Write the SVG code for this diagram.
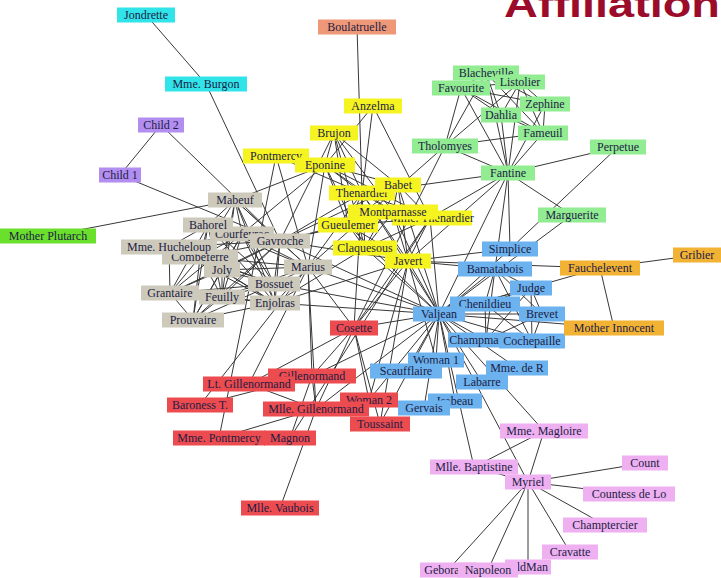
<svg xmlns="http://www.w3.org/2000/svg" width="721" height="578" viewBox="0 0 721 578">
<style>
.node rect{stroke:none}
.node text{font-family:"Liberation Serif","Times New Roman",serif;font-size:12px;fill:#1c1c44;text-anchor:middle}
.cyan rect{fill:#30e4ea}
.salmon rect{fill:#ef9878}
.purple rect{fill:#b28ef0}
.lime rect{fill:#6adf2c}
.yellow rect{fill:#f6f420}
.green rect{fill:#92ec92}
.gray rect{fill:#cdcabb}
.red rect{fill:#ec4c4f}
.blue rect{fill:#6cb2ee}
.orange rect{fill:#f2b234}
.pink rect{fill:#eeb0f0}
#edges line{stroke:#383838;stroke-width:1}
.title{font-family:"Liberation Sans",Arial,sans-serif;font-weight:bold;font-size:36px;fill:#9b0b2a}
</style>
<rect width="721" height="578" fill="#ffffff"/>
<text class="title" x="504" y="17" textLength="216" lengthAdjust="spacingAndGlyphs">Affiliation</text>
<g id="edges">
<line x1="488" y1="570" x2="528" y2="482"/><line x1="474" y1="467" x2="528" y2="482"/><line x1="544" y1="431" x2="528" y2="482"/><line x1="544" y1="431" x2="474" y2="467"/><line x1="629" y1="494" x2="528" y2="482"/><line x1="448" y1="570" x2="528" y2="482"/><line x1="605" y1="525" x2="528" y2="482"/><line x1="570" y1="552" x2="528" y2="482"/><line x1="645" y1="463" x2="528" y2="482"/><line x1="528" y1="567" x2="528" y2="482"/>
<line x1="439" y1="314" x2="482" y2="382"/><line x1="439" y1="314" x2="544" y2="431"/><line x1="439" y1="314" x2="474" y2="467"/><line x1="439" y1="314" x2="528" y2="482"/><line x1="572" y1="215" x2="439" y2="314"/><line x1="517" y1="368" x2="439" y2="314"/><line x1="455" y1="401" x2="439" y2="314"/><line x1="424" y1="408" x2="439" y2="314"/>
<line x1="520" y1="82" x2="445" y2="146"/><line x1="543" y1="133" x2="445" y2="146"/><line x1="543" y1="133" x2="520" y2="82"/><line x1="486" y1="73" x2="445" y2="146"/><line x1="486" y1="73" x2="520" y2="82"/><line x1="486" y1="73" x2="543" y2="133"/><line x1="461" y1="88" x2="445" y2="146"/><line x1="461" y1="88" x2="520" y2="82"/><line x1="461" y1="88" x2="543" y2="133"/><line x1="461" y1="88" x2="486" y2="73"/>
<line x1="501" y1="115" x2="520" y2="82"/><line x1="501" y1="115" x2="543" y2="133"/><line x1="501" y1="115" x2="486" y2="73"/><line x1="501" y1="115" x2="461" y2="88"/><line x1="545" y1="104" x2="520" y2="82"/><line x1="545" y1="104" x2="543" y2="133"/><line x1="545" y1="104" x2="486" y2="73"/><line x1="545" y1="104" x2="461" y2="88"/><line x1="545" y1="104" x2="501" y2="115"/>
<line x1="508" y1="173" x2="445" y2="146"/><line x1="508" y1="173" x2="520" y2="82"/><line x1="508" y1="173" x2="543" y2="133"/><line x1="508" y1="173" x2="486" y2="73"/><line x1="508" y1="173" x2="461" y2="88"/><line x1="508" y1="173" x2="501" y2="115"/><line x1="508" y1="173" x2="545" y2="104"/><line x1="508" y1="173" x2="572" y2="215"/><line x1="508" y1="173" x2="439" y2="314"/>
<line x1="430" y1="218" x2="508" y2="173"/><line x1="430" y1="218" x2="439" y2="314"/><line x1="362" y1="193" x2="430" y2="218"/><line x1="362" y1="193" x2="508" y2="173"/><line x1="362" y1="193" x2="439" y2="314"/>
<line x1="354" y1="328" x2="430" y2="218"/><line x1="354" y1="328" x2="439" y2="314"/><line x1="354" y1="328" x2="445" y2="146"/><line x1="354" y1="328" x2="362" y2="193"/>
<line x1="408" y1="261" x2="439" y2="314"/><line x1="408" y1="261" x2="508" y2="173"/><line x1="408" y1="261" x2="362" y2="193"/><line x1="408" y1="261" x2="430" y2="218"/><line x1="408" y1="261" x2="354" y2="328"/>
<line x1="600" y1="268" x2="439" y2="314"/><line x1="600" y1="268" x2="408" y2="261"/><line x1="495" y1="269" x2="508" y2="173"/><line x1="495" y1="269" x2="408" y2="261"/><line x1="495" y1="269" x2="439" y2="314"/>
<line x1="618" y1="147" x2="508" y2="173"/><line x1="510" y1="249" x2="618" y2="147"/><line x1="510" y1="249" x2="439" y2="314"/><line x1="510" y1="249" x2="508" y2="173"/><line x1="510" y1="249" x2="408" y2="261"/>
<line x1="406" y1="371" x2="439" y2="314"/><line x1="436" y1="360" x2="439" y2="314"/><line x1="436" y1="360" x2="408" y2="261"/>
<line x1="531" y1="288" x2="439" y2="314"/><line x1="531" y1="288" x2="495" y2="269"/><line x1="486" y1="340" x2="439" y2="314"/><line x1="486" y1="340" x2="531" y2="288"/><line x1="486" y1="340" x2="495" y2="269"/>
<line x1="542" y1="314" x2="531" y2="288"/><line x1="542" y1="314" x2="486" y2="340"/><line x1="542" y1="314" x2="439" y2="314"/><line x1="542" y1="314" x2="495" y2="269"/>
<line x1="485" y1="304" x2="531" y2="288"/><line x1="485" y1="304" x2="486" y2="340"/><line x1="485" y1="304" x2="542" y2="314"/><line x1="485" y1="304" x2="439" y2="314"/><line x1="485" y1="304" x2="495" y2="269"/>
<line x1="532" y1="341" x2="531" y2="288"/><line x1="532" y1="341" x2="486" y2="340"/><line x1="532" y1="341" x2="542" y2="314"/><line x1="532" y1="341" x2="485" y2="304"/><line x1="532" y1="341" x2="439" y2="314"/><line x1="532" y1="341" x2="495" y2="269"/>
<line x1="276" y1="156" x2="362" y2="193"/><line x1="357" y1="27" x2="362" y2="193"/><line x1="325" y1="165" x2="430" y2="218"/><line x1="325" y1="165" x2="362" y2="193"/>
<line x1="373" y1="106" x2="325" y2="165"/><line x1="373" y1="106" x2="362" y2="193"/><line x1="373" y1="106" x2="430" y2="218"/>
<line x1="369" y1="400" x2="439" y2="314"/><line x1="369" y1="400" x2="354" y2="328"/><line x1="369" y1="400" x2="408" y2="261"/>
<line x1="614" y1="328" x2="600" y2="268"/><line x1="614" y1="328" x2="439" y2="314"/><line x1="697" y1="255" x2="600" y2="268"/>
<line x1="206" y1="84" x2="146" y2="15"/><line x1="280" y1="241" x2="206" y2="84"/><line x1="280" y1="241" x2="362" y2="193"/><line x1="280" y1="241" x2="408" y2="261"/><line x1="280" y1="241" x2="439" y2="314"/>
<line x1="312" y1="376" x2="354" y2="328"/><line x1="312" y1="376" x2="439" y2="314"/><line x1="290" y1="438" x2="312" y2="376"/><line x1="290" y1="438" x2="430" y2="218"/>
<line x1="316" y1="409" x2="312" y2="376"/><line x1="316" y1="409" x2="354" y2="328"/><line x1="316" y1="409" x2="439" y2="314"/><line x1="219" y1="438" x2="316" y2="409"/><line x1="219" y1="438" x2="276" y2="156"/><line x1="280" y1="508" x2="316" y2="409"/>
<line x1="249" y1="384" x2="316" y2="409"/><line x1="249" y1="384" x2="312" y2="376"/><line x1="249" y1="384" x2="354" y2="328"/>
<line x1="308" y1="267" x2="316" y2="409"/><line x1="308" y1="267" x2="312" y2="376"/><line x1="308" y1="267" x2="276" y2="156"/><line x1="308" y1="267" x2="249" y2="384"/><line x1="308" y1="267" x2="354" y2="328"/><line x1="308" y1="267" x2="439" y2="314"/><line x1="308" y1="267" x2="445" y2="146"/><line x1="308" y1="267" x2="362" y2="193"/><line x1="308" y1="267" x2="325" y2="165"/><line x1="308" y1="267" x2="280" y2="241"/>
<line x1="200" y1="405" x2="312" y2="376"/><line x1="200" y1="405" x2="308" y2="267"/>
<line x1="235" y1="200" x2="308" y2="267"/><line x1="235" y1="200" x2="325" y2="165"/><line x1="235" y1="200" x2="280" y2="241"/>
<line x1="275" y1="303" x2="308" y2="267"/><line x1="275" y1="303" x2="280" y2="241"/><line x1="275" y1="303" x2="408" y2="261"/><line x1="275" y1="303" x2="235" y2="200"/><line x1="275" y1="303" x2="439" y2="314"/>
<line x1="200" y1="257" x2="275" y2="303"/><line x1="200" y1="257" x2="308" y2="267"/><line x1="200" y1="257" x2="280" y2="241"/><line x1="200" y1="257" x2="235" y2="200"/>
<line x1="193" y1="320" x2="280" y2="241"/><line x1="193" y1="320" x2="275" y2="303"/><line x1="193" y1="320" x2="200" y2="257"/>
<line x1="222" y1="297" x2="280" y2="241"/><line x1="222" y1="297" x2="275" y2="303"/><line x1="222" y1="297" x2="193" y2="320"/><line x1="222" y1="297" x2="200" y2="257"/><line x1="222" y1="297" x2="235" y2="200"/><line x1="222" y1="297" x2="308" y2="267"/>
<line x1="242" y1="234" x2="308" y2="267"/><line x1="242" y1="234" x2="275" y2="303"/><line x1="242" y1="234" x2="200" y2="257"/><line x1="242" y1="234" x2="280" y2="241"/><line x1="242" y1="234" x2="235" y2="200"/><line x1="242" y1="234" x2="325" y2="165"/><line x1="242" y1="234" x2="222" y2="297"/><line x1="242" y1="234" x2="193" y2="320"/>
<line x1="208" y1="225" x2="200" y2="257"/><line x1="208" y1="225" x2="280" y2="241"/><line x1="208" y1="225" x2="242" y2="234"/><line x1="208" y1="225" x2="235" y2="200"/><line x1="208" y1="225" x2="275" y2="303"/><line x1="208" y1="225" x2="222" y2="297"/><line x1="208" y1="225" x2="193" y2="320"/><line x1="208" y1="225" x2="308" y2="267"/>
<line x1="274" y1="284" x2="308" y2="267"/><line x1="274" y1="284" x2="242" y2="234"/><line x1="274" y1="284" x2="280" y2="241"/><line x1="274" y1="284" x2="208" y2="225"/><line x1="274" y1="284" x2="275" y2="303"/><line x1="274" y1="284" x2="222" y2="297"/><line x1="274" y1="284" x2="193" y2="320"/><line x1="274" y1="284" x2="200" y2="257"/><line x1="274" y1="284" x2="235" y2="200"/><line x1="274" y1="284" x2="439" y2="314"/>
<line x1="222" y1="270" x2="208" y2="225"/><line x1="222" y1="270" x2="274" y2="284"/><line x1="222" y1="270" x2="280" y2="241"/><line x1="222" y1="270" x2="242" y2="234"/><line x1="222" y1="270" x2="275" y2="303"/><line x1="222" y1="270" x2="222" y2="297"/><line x1="222" y1="270" x2="193" y2="320"/><line x1="222" y1="270" x2="200" y2="257"/><line x1="222" y1="270" x2="235" y2="200"/><line x1="222" y1="270" x2="308" y2="267"/>
<line x1="170" y1="293" x2="274" y2="284"/><line x1="170" y1="293" x2="275" y2="303"/><line x1="170" y1="293" x2="200" y2="257"/><line x1="170" y1="293" x2="242" y2="234"/><line x1="170" y1="293" x2="222" y2="270"/><line x1="170" y1="293" x2="280" y2="241"/><line x1="170" y1="293" x2="208" y2="225"/><line x1="170" y1="293" x2="222" y2="297"/><line x1="170" y1="293" x2="193" y2="320"/>
<line x1="48" y1="236" x2="235" y2="200"/>
<line x1="348" y1="225" x2="362" y2="193"/><line x1="348" y1="225" x2="439" y2="314"/><line x1="348" y1="225" x2="430" y2="218"/><line x1="348" y1="225" x2="408" y2="261"/><line x1="348" y1="225" x2="280" y2="241"/><line x1="348" y1="225" x2="325" y2="165"/>
<line x1="398" y1="185" x2="362" y2="193"/><line x1="398" y1="185" x2="348" y2="225"/><line x1="398" y1="185" x2="439" y2="314"/><line x1="398" y1="185" x2="430" y2="218"/><line x1="398" y1="185" x2="408" y2="261"/><line x1="398" y1="185" x2="280" y2="241"/><line x1="398" y1="185" x2="325" y2="165"/>
<line x1="365" y1="248" x2="362" y2="193"/><line x1="365" y1="248" x2="398" y2="185"/><line x1="365" y1="248" x2="348" y2="225"/><line x1="365" y1="248" x2="439" y2="314"/><line x1="365" y1="248" x2="430" y2="218"/><line x1="365" y1="248" x2="408" y2="261"/><line x1="365" y1="248" x2="325" y2="165"/><line x1="365" y1="248" x2="275" y2="303"/>
<line x1="393" y1="212" x2="408" y2="261"/><line x1="393" y1="212" x2="398" y2="185"/><line x1="393" y1="212" x2="348" y2="225"/><line x1="393" y1="212" x2="365" y2="248"/><line x1="393" y1="212" x2="439" y2="314"/><line x1="393" y1="212" x2="280" y2="241"/><line x1="393" y1="212" x2="325" y2="165"/><line x1="393" y1="212" x2="362" y2="193"/>
<line x1="380" y1="424" x2="354" y2="328"/><line x1="380" y1="424" x2="408" y2="261"/><line x1="380" y1="424" x2="439" y2="314"/>
<line x1="120" y1="175" x2="280" y2="241"/><line x1="161" y1="125" x2="280" y2="241"/><line x1="161" y1="125" x2="120" y2="175"/>
<line x1="334" y1="133" x2="398" y2="185"/><line x1="334" y1="133" x2="348" y2="225"/><line x1="334" y1="133" x2="362" y2="193"/><line x1="334" y1="133" x2="280" y2="241"/><line x1="334" y1="133" x2="325" y2="165"/><line x1="334" y1="133" x2="365" y2="248"/><line x1="334" y1="133" x2="393" y2="212"/>
<line x1="169" y1="247" x2="274" y2="284"/><line x1="169" y1="247" x2="222" y2="270"/><line x1="169" y1="247" x2="170" y2="293"/><line x1="169" y1="247" x2="208" y2="225"/><line x1="169" y1="247" x2="242" y2="234"/><line x1="169" y1="247" x2="280" y2="241"/><line x1="169" y1="247" x2="275" y2="303"/>
</g>
<g id="nodes">
<g id="n-jondrette" class="node cyan"><rect x="117" y="7.5" width="58" height="15"/><text x="146" y="19">Jondrette</text></g>
<g id="n-mme-burgon" class="node cyan"><rect x="165" y="76.5" width="82" height="15"/><text x="206" y="88">Mme. Burgon</text></g>
<g id="n-boulatruelle" class="node salmon"><rect x="318" y="19.5" width="78" height="15"/><text x="357" y="31">Boulatruelle</text></g>
<g id="n-child2" class="node purple"><rect x="138" y="117.5" width="46" height="15"/><text x="161" y="129">Child 2</text></g>
<g id="n-child1" class="node purple"><rect x="99" y="167.5" width="42" height="15"/><text x="120" y="179">Child 1</text></g>
<g id="n-mother-plutarch" class="node lime"><rect x="0" y="228.5" width="96" height="15"/><text x="48" y="240">Mother Plutarch</text></g>
<g id="n-anzelma" class="node yellow"><rect x="344" y="98.5" width="58" height="15"/><text x="373" y="110">Anzelma</text></g>
<g id="n-brujon" class="node yellow"><rect x="310" y="125.5" width="48" height="15"/><text x="334" y="137">Brujon</text></g>
<g id="n-pontmercy" class="node yellow"><rect x="243" y="148.5" width="66" height="15"/><text x="276" y="160">Pontmercy</text></g>
<g id="n-eponine" class="node yellow"><rect x="295" y="157.5" width="60" height="15"/><text x="325" y="169">Eponine</text></g>
<g id="n-thenardier" class="node yellow"><rect x="329" y="185.5" width="66" height="15"/><text x="362" y="197">Thenardier</text></g>
<g id="n-babet" class="node yellow"><rect x="375" y="177.5" width="46" height="15"/><text x="398" y="189">Babet</text></g>
<g id="n-mme-thenardier" class="node yellow"><rect x="392" y="210.5" width="80" height="15"/><text x="432" y="222">Mme. Thenardier</text></g>
<g id="n-montparnasse" class="node yellow"><rect x="348" y="204.5" width="90" height="15"/><text x="393" y="216">Montparnasse</text></g>
<g id="n-gueulemer" class="node yellow"><rect x="318" y="217.5" width="60" height="15"/><text x="348" y="229">Gueulemer</text></g>
<g id="n-claquesous" class="node yellow"><rect x="333" y="240.5" width="64" height="15"/><text x="365" y="252">Claquesous</text></g>
<g id="n-javert" class="node yellow"><rect x="385" y="253.5" width="46" height="15"/><text x="408" y="265">Javert</text></g>
<g id="n-blacheville" class="node green"><rect x="453" y="65.5" width="66" height="15"/><text x="486" y="77">Blacheville</text></g>
<g id="n-favourite" class="node green"><rect x="432" y="80.5" width="58" height="15"/><text x="461" y="92">Favourite</text></g>
<g id="n-listolier" class="node green"><rect x="495" y="74.5" width="50" height="15"/><text x="520" y="86">Listolier</text></g>
<g id="n-zephine" class="node green"><rect x="520" y="96.5" width="50" height="15"/><text x="545" y="108">Zephine</text></g>
<g id="n-dahlia" class="node green"><rect x="481" y="107.5" width="40" height="15"/><text x="501" y="119">Dahlia</text></g>
<g id="n-fameuil" class="node green"><rect x="518" y="125.5" width="50" height="15"/><text x="543" y="137">Fameuil</text></g>
<g id="n-tholomyes" class="node green"><rect x="412" y="138.5" width="66" height="15"/><text x="445" y="150">Tholomyes</text></g>
<g id="n-perpetue" class="node green"><rect x="590" y="139.5" width="56" height="15"/><text x="618" y="151">Perpetue</text></g>
<g id="n-fantine" class="node green"><rect x="481" y="165.5" width="54" height="15"/><text x="508" y="177">Fantine</text></g>
<g id="n-marguerite" class="node green"><rect x="538" y="207.5" width="68" height="15"/><text x="572" y="219">Marguerite</text></g>
<g id="n-mabeuf" class="node gray"><rect x="208" y="192.5" width="54" height="15"/><text x="235" y="204">Mabeuf</text></g>
<g id="n-courfeyrac" class="node gray"><rect x="210" y="226.5" width="64" height="15"/><text x="242" y="238">Courfeyrac</text></g>
<g id="n-bahorel" class="node gray"><rect x="183" y="217.5" width="50" height="15"/><text x="208" y="229">Bahorel</text></g>
<g id="n-gavroche" class="node gray"><rect x="250" y="233.5" width="60" height="15"/><text x="280" y="245">Gavroche</text></g>
<g id="n-combeferre" class="node gray"><rect x="162" y="249.5" width="76" height="15"/><text x="200" y="261">Combeferre</text></g>
<g id="n-mme-hucheloup" class="node gray"><rect x="121" y="239.5" width="96" height="15"/><text x="169" y="251">Mme. Hucheloup</text></g>
<g id="n-joly" class="node gray"><rect x="204" y="262.5" width="36" height="15"/><text x="222" y="274">Joly</text></g>
<g id="n-marius" class="node gray"><rect x="284" y="259.5" width="48" height="15"/><text x="308" y="271">Marius</text></g>
<g id="n-bossuet" class="node gray"><rect x="248" y="276.5" width="52" height="15"/><text x="274" y="288">Bossuet</text></g>
<g id="n-grantaire" class="node gray"><rect x="141" y="285.5" width="58" height="15"/><text x="170" y="297">Grantaire</text></g>
<g id="n-feuilly" class="node gray"><rect x="199" y="289.5" width="46" height="15"/><text x="222" y="301">Feuilly</text></g>
<g id="n-enjolras" class="node gray"><rect x="250" y="295.5" width="50" height="15"/><text x="275" y="307">Enjolras</text></g>
<g id="n-prouvaire" class="node gray"><rect x="162" y="312.5" width="62" height="15"/><text x="193" y="324">Prouvaire</text></g>
<g id="n-cosette" class="node red"><rect x="330" y="320.5" width="48" height="15"/><text x="354" y="332">Cosette</text></g>
<g id="n-gillenormand" class="node red"><rect x="268" y="368.5" width="88" height="15"/><text x="312" y="380">Gillenormand</text></g>
<g id="n-lt-gillenormand" class="node red"><rect x="203" y="376.5" width="92" height="15"/><text x="249" y="388">Lt. Gillenormand</text></g>
<g id="n-baroness-t" class="node red"><rect x="167" y="397.5" width="66" height="15"/><text x="200" y="409">Baroness T.</text></g>
<g id="n-woman2" class="node red"><rect x="340" y="392.5" width="58" height="15"/><text x="369" y="404">Woman 2</text></g>
<g id="n-mlle-gillenormand" class="node red"><rect x="263" y="401.5" width="106" height="15"/><text x="316" y="413">Mlle. Gillenormand</text></g>
<g id="n-toussaint" class="node red"><rect x="350" y="416.5" width="60" height="15"/><text x="380" y="428">Toussaint</text></g>
<g id="n-mme-pontmercy" class="node red"><rect x="173" y="430.5" width="92" height="15"/><text x="219" y="442">Mme. Pontmercy</text></g>
<g id="n-magnon" class="node red"><rect x="264" y="430.5" width="52" height="15"/><text x="290" y="442">Magnon</text></g>
<g id="n-mlle-vaubois" class="node red"><rect x="241" y="500.5" width="78" height="15"/><text x="280" y="512">Mlle. Vaubois</text></g>
<g id="n-simplice" class="node blue"><rect x="482" y="241.5" width="56" height="15"/><text x="510" y="253">Simplice</text></g>
<g id="n-bamatabois" class="node blue"><rect x="458" y="261.5" width="74" height="15"/><text x="495" y="273">Bamatabois</text></g>
<g id="n-judge" class="node blue"><rect x="510" y="280.5" width="42" height="15"/><text x="531" y="292">Judge</text></g>
<g id="n-chenildieu" class="node blue"><rect x="450" y="296.5" width="70" height="15"/><text x="485" y="308">Chenildieu</text></g>
<g id="n-brevet" class="node blue"><rect x="519" y="306.5" width="46" height="15"/><text x="542" y="318">Brevet</text></g>
<g id="n-valjean" class="node blue"><rect x="413" y="306.5" width="52" height="15"/><text x="439" y="318">Valjean</text></g>
<g id="n-champmathieu" class="node blue"><rect x="448" y="332.5" width="76" height="15"/><text x="486" y="344">Champmathieu</text></g>
<g id="n-cochepaille" class="node blue"><rect x="499" y="333.5" width="66" height="15"/><text x="532" y="345">Cochepaille</text></g>
<g id="n-woman1" class="node blue"><rect x="408" y="352.5" width="56" height="15"/><text x="436" y="364">Woman 1</text></g>
<g id="n-scaufflaire" class="node blue"><rect x="370" y="363.5" width="72" height="15"/><text x="406" y="375">Scaufflaire</text></g>
<g id="n-mme-de-r" class="node blue"><rect x="486" y="360.5" width="62" height="15"/><text x="517" y="372">Mme. de R</text></g>
<g id="n-labarre" class="node blue"><rect x="456" y="374.5" width="52" height="15"/><text x="482" y="386">Labarre</text></g>
<g id="n-isabeau" class="node blue"><rect x="428" y="393.5" width="54" height="15"/><text x="455" y="405">Isabeau</text></g>
<g id="n-gervais" class="node blue"><rect x="398" y="400.5" width="52" height="15"/><text x="424" y="412">Gervais</text></g>
<g id="n-fauchelevent" class="node orange"><rect x="560" y="260.5" width="80" height="15"/><text x="600" y="272">Fauchelevent</text></g>
<g id="n-gribier" class="node orange"><rect x="673" y="247.5" width="48" height="15"/><text x="697" y="259">Gribier</text></g>
<g id="n-mother-innocent" class="node orange"><rect x="564" y="320.5" width="100" height="15"/><text x="614" y="332">Mother Innocent</text></g>
<g id="n-mme-magloire" class="node pink"><rect x="500" y="423.5" width="88" height="15"/><text x="544" y="435">Mme. Magloire</text></g>
<g id="n-mlle-baptistine" class="node pink"><rect x="430" y="459.5" width="88" height="15"/><text x="474" y="471">Mlle. Baptistine</text></g>
<g id="n-myriel" class="node pink"><rect x="505" y="474.5" width="46" height="15"/><text x="528" y="486">Myriel</text></g>
<g id="n-count" class="node pink"><rect x="622" y="455.5" width="46" height="15"/><text x="645" y="467">Count</text></g>
<g id="n-countess-de-lo" class="node pink"><rect x="583" y="486.5" width="92" height="15"/><text x="629" y="498">Countess de Lo</text></g>
<g id="n-champtercier" class="node pink"><rect x="563" y="517.5" width="84" height="15"/><text x="605" y="529">Champtercier</text></g>
<g id="n-cravatte" class="node pink"><rect x="542" y="544.5" width="56" height="15"/><text x="570" y="556">Cravatte</text></g>
<g id="n-geborand" class="node pink"><rect x="420" y="562.5" width="56" height="15"/><text x="448" y="574">Geborand</text></g>
<g id="n-oldman" class="node pink"><rect x="505" y="559.5" width="46" height="15"/><text x="528" y="571">OldMan</text></g>
<g id="n-napoleon" class="node pink"><rect x="458" y="562.5" width="60" height="15"/><text x="488" y="574">Napoleon</text></g>
</g>
</svg>
